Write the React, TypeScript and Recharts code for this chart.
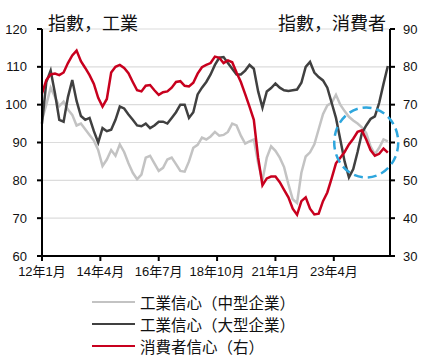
import {
  LineChart,
  Line,
  XAxis,
  YAxis,
  CartesianGrid,
  ReferenceDot,
} from "recharts";

// one value every 2 months, Jan 2012 .. May 2025
const monthStep = 2;

const tickMonths = [0, 27, 54, 81, 108, 135];
const tickLabels = ["12年1月", "14年4月", "16年7月", "18年10月", "21年1月", "23年4月"];

const leftTicks = [60, 70, 80, 90, 100, 110, 120];
const rightTicks = [30, 40, 50, 60, 70, 80, 90];

// 工業信心（中型企業）
const midSize = [
  96, 100, 104.5, 102, 99.6, 100.8, 98.7, 97.3, 94.5, 95, 93.5, 92, 90.5, 88, 83.8, 85.5,
  88, 86.5, 89.5, 87.5, 84.5, 82, 80.3, 81.5, 86, 86.5, 84.5, 82.5, 83.3, 85.5, 86, 84.3,
  82.5, 82.3, 85, 88.6, 89.4, 91.3, 90.8, 91.6, 92.8, 91.8, 92, 92.8, 95, 94.5, 91.8, 89.7,
  90.3, 90.8, 84.5, 80, 86, 89, 87.8, 86, 83.5, 79, 75, 74, 82, 86.3, 87.4, 89.5,
  93.5, 97.5, 99.8, 100.5, 102.6, 100, 98.3, 96.8, 95.8, 95, 94, 92.5, 89, 86.9, 88.6, 90.8,
  90.3,
];

// 工業信心（大型企業）
const largeSize = [
  95, 106, 109, 103, 96, 95.5, 102, 106.5, 101, 97, 96, 96.5, 93, 90, 93.8, 93,
  93.4, 96, 99.5, 99, 97.4, 96, 94.5, 94.3, 95, 93.8, 94.5, 95.5, 95.5, 95, 96.5, 98,
  100, 100, 96.5, 98, 102.7, 104.5, 106, 108, 110.5, 112.4, 112.6, 111, 109.5, 108, 108, 109,
  110.5, 109.5, 103.5, 99.2, 103.5, 104.4, 105.6, 104.5, 103.8, 103.6, 103.8, 104, 105.8, 110, 111.3, 108.5,
  107.3, 106.4, 104.5, 100.5, 96.5, 90.8, 85, 80.8, 83, 87.5, 92.5, 94.5, 96.2, 96.9, 100.5, 105.5,
  110.2,
];

// 消費者信心（右）
const consumer = [
  73, 76.5, 78, 78.2, 77.8, 78.5, 81, 83, 84.3, 81.5, 79.7, 77.8, 75.5, 71.8, 69.5, 71.5,
  78.5, 80, 80.5, 79.7, 78.3, 76, 73.8, 73.5, 75, 75.2, 73.8, 72.6, 73.3, 73.5, 74.5, 76,
  76.2, 75, 74.8, 75.8, 78.2, 79.9, 80.5, 81, 82.7, 82.4, 81, 81.7, 81.2, 78.5, 76, 72.8,
  69.5, 66, 56, 48.7, 50.5, 51, 51, 49.5, 47.5, 45.5, 42.5, 40.9, 44.5, 45.5, 42.5, 41,
  41.2, 44.5, 46.8, 50.5, 54.5, 56, 57.5, 59.5, 61, 62.8, 63.2, 60.8, 58, 56.5, 57, 58.4,
  57.3,
];

const colors = {
  mid: "#c3c3c3",
  large: "#404040",
  consumer: "#c8001e",
  circle: "#2ea6dd",
  grid: "#dcdcdc",
  axis: "#000",
};

const legendItems = [
  { label: "工業信心（中型企業）", color: colors.mid },
  { label: "工業信心（大型企業）", color: colors.large },
  { label: "消費者信心（右）", color: colors.consumer },
];

const numFont = "'Liberation Sans', Arial, sans-serif";
const cjkFont = "'Noto Sans CJK SC', 'Noto Sans', sans-serif";
const mixedFont = "'Liberation Sans', 'Noto Sans CJK SC', sans-serif";

const data = midSize.map((v, i) => ({
  m: i * monthStep,
  mid: v,
  large: largeSize[i],
  consumer: consumer[i],
}));

const labelFor = (m: number) => tickLabels[tickMonths.indexOf(m)] ?? "";

function DashedEllipse(props: any) {
  const { cx, cy } = props;
  if (cx == null || cy == null) return null;
  return (
    <ellipse
      cx={cx}
      cy={cy}
      rx={32}
      ry={35}
      fill="none"
      stroke={colors.circle}
      strokeWidth={2.5}
      strokeDasharray="9 5"
    />
  );
}

export default function App() {
  return (
    <div style={{ position: "absolute", left: 0, top: 0, width: 427, height: 358, background: "#fff", overflow: "hidden" }}>
      <LineChart
        width={427}
        height={358}
        data={data}
        margin={{ top: 29, right: 0, left: 0, bottom: 72 }}
      >
        <CartesianGrid yAxisId="left" vertical={false} stroke={colors.grid} strokeWidth={1.2} />
        <XAxis
          dataKey="m"
          type="number"
          domain={[0, 161]}
          ticks={tickMonths}
          tickFormatter={labelFor}
          interval={0}
          height={30}
          axisLine={{ stroke: colors.axis, strokeWidth: 2 }}
          tickLine={{ stroke: colors.axis, strokeWidth: 2 }}
          tickSize={5}
          tickMargin={6}
          tick={{ fontSize: 13, fill: "#111", fontFamily: mixedFont }}
        />
        <YAxis
          yAxisId="left"
          domain={[60, 120]}
          ticks={leftTicks}
          interval={0}
          width={42}
          axisLine={{ stroke: colors.axis, strokeWidth: 2 }}
          tickLine={{ stroke: colors.axis, strokeWidth: 2 }}
          tickSize={5}
          tickMargin={10}
          tick={{ fontSize: 13, fill: "#111", fontFamily: numFont }}
        />
        <YAxis
          yAxisId="right"
          orientation="right"
          domain={[30, 90]}
          ticks={rightTicks}
          interval={0}
          width={37}
          axisLine={{ stroke: colors.axis, strokeWidth: 2 }}
          tickLine={{ stroke: colors.axis, strokeWidth: 2 }}
          tickSize={5}
          tickMargin={8}
          tick={{ fontSize: 13, fill: "#111", fontFamily: numFont }}
        />
        <Line
          yAxisId="left"
          type="linear"
          dataKey="mid"
          stroke={colors.mid}
          strokeWidth={2.5}
          dot={false}
          isAnimationActive={false}
        />
        <Line
          yAxisId="left"
          type="linear"
          dataKey="large"
          stroke={colors.large}
          strokeWidth={2.5}
          dot={false}
          isAnimationActive={false}
        />
        <Line
          yAxisId="right"
          type="linear"
          dataKey="consumer"
          stroke={colors.consumer}
          strokeWidth={2.5}
          dot={false}
          isAnimationActive={false}
        />
        <ReferenceDot yAxisId="left" x={150} y={90} r={30} shape={DashedEllipse} />
        <text x={48} y={30} fontSize={18} fontFamily={cjkFont} fill="#111">
          指數，工業
        </text>
        <text x={386} y={30} fontSize={18} fontFamily={cjkFont} fill="#111" textAnchor="end">
          指數，消費者
        </text>
      </LineChart>
      <div style={{ position: "absolute", left: 92, top: 291 }}>
        {legendItems.map((item) => (
          <div key={item.label} style={{ display: "flex", alignItems: "center", height: 22 }}>
            <div style={{ width: 43, height: 2.5, background: item.color, marginRight: 5 }} />
            <span style={{ fontFamily: cjkFont, fontSize: 15.5, color: "#111", lineHeight: "16px" }}>
              {item.label}
            </span>
          </div>
        ))}
      </div>
    </div>
  );
}
